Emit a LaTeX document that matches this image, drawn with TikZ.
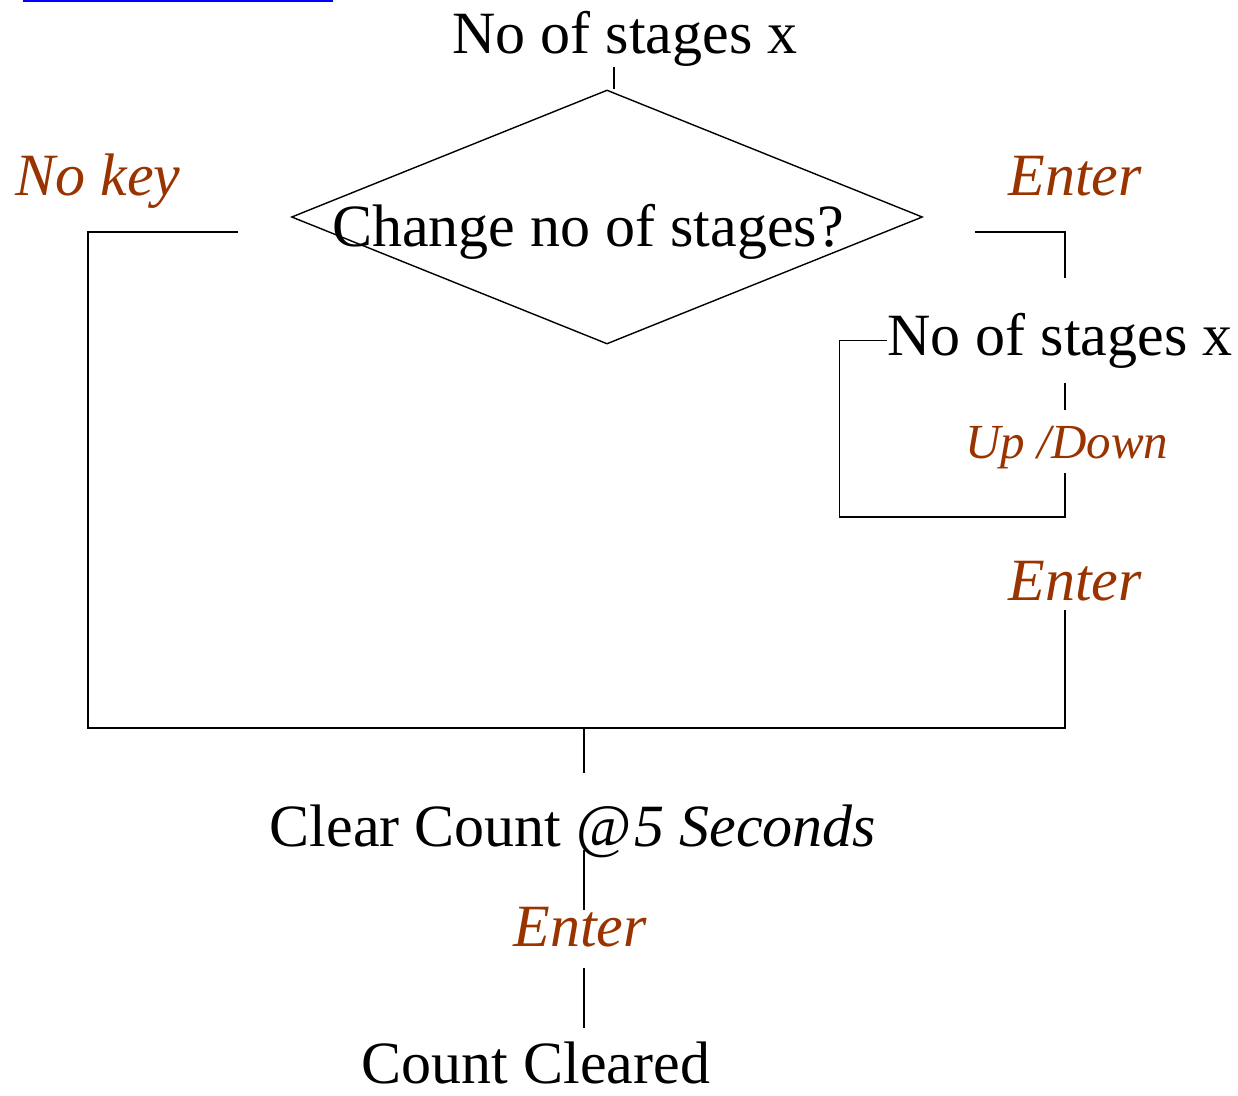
\documentclass[tikz,border=0pt]{standalone}
\usepackage{fontspec}
\setmainfont{Liberation Serif}
\usepackage{xcolor}
\usetikzlibrary{shapes.geometric}
\definecolor{keybrown}{RGB}{153,51,0}

\begin{document}
\begin{tikzpicture}[x=1pt, y=-1pt,
        txt/.style={anchor=base, inner sep=0pt, font=\fontsize{60}{72}\selectfont},
        keytxt/.style={txt, text=keybrown, font=\fontsize{60}{72}\selectfont\itshape},
        wire/.style={draw, line width=1.4pt}]
        \useasboundingbox (0,0) rectangle (1238,1095);
        \draw[blue, line width=2pt] (23,0.5) -- (333,0.5);

        \node[txt] (title) at (625,53) {No of stages x};
        \node[draw, diamond, line width=1.4pt, minimum width=631pt, minimum height=254pt, inner sep=0pt] (chg) at (607,217) {};
        \node[txt] (chgtxt) at (588,246) {Change no of stages?};

        \node[keytxt] (nokey) at (98,195) {No key};
        \node[keytxt] (ent1) at (1075,195) {Enter};
        \node[txt] (stg) at (1060,355) {No of stages x};
        \node[keytxt, font=\fontsize{49}{58}\selectfont\itshape] (updn) at (1067,458) {Up /Down};
        \node[keytxt] (ent2) at (1075,600) {Enter};
        \node[txt] (clr) at (573,846) {Clear Count @\kern3pt\textit{5 Seconds}};
        \node[keytxt] (ent3) at (580,946) {Enter};
        \node[txt] (done) at (536,1083) {Count Cleared};

        \coordinate (join) at (584,728);
        \coordinate (noin) at (238,232);
        \coordinate (entin) at (975,232);
        \coordinate (stgin) at (1065,278);
        \coordinate (updnin) at (1065,383);
        \coordinate (updnup) at (1065,410);
        \coordinate (updnout) at (1065,473);
        \coordinate (entout) at (1065,610);
        \coordinate (clrin) at (584,773);
        \coordinate (clrout) at (584,850);
        \coordinate (ent3in) at (584,910);
        \coordinate (ent3out) at (584,968);
        \coordinate (donein) at (584,1028);

        % connectors
        \draw[wire] ([xshift=7pt]chg.north) -- ([xshift=7pt]chg.north |- 0,67);
        \draw[wire] (noin) -- ++(-150,0) |- (join);
        \draw[wire] (entin) -| (stgin);
        \draw[wire] (updnin) -- (updnup);
        \draw[wire] (updnout) -- ++(0,44) -| ([xshift=-48pt]stg.west) -- (stg.west);
        \draw[wire] (entout) |- (join);
        \draw[wire] (join) -- (clrin);
        \draw[wire] (clrout) -- (ent3in);
        \draw[wire] (ent3out) -- (donein);
    \end{tikzpicture}
\end{document}
